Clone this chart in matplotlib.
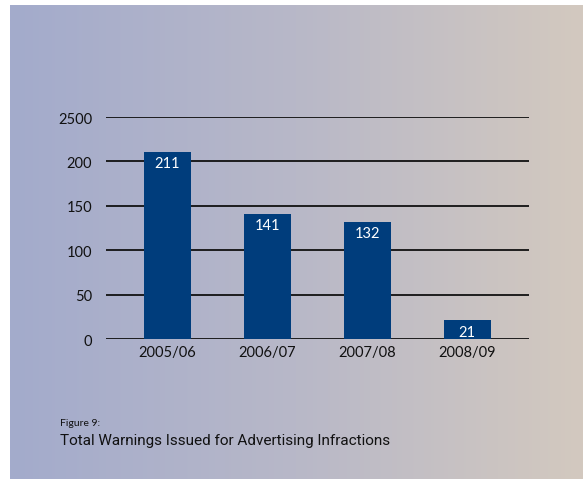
import numpy as np
import matplotlib.pyplot as plt
from matplotlib.colors import LinearSegmentedColormap

seasons = ["2005/06", "2006/07", "2007/08", "2008/09"]
warnings = [211, 141, 132, 21]
ytick_vals = [0, 50, 100, 150, 200, 250]
ytick_labels = ["0", "50", "100", "150", "200", "2500"]

plt.rcParams['font.family'] = ['Lato', 'DejaVu Sans']

W, H = 583, 485
fig = plt.figure(figsize=(W / 100, H / 100), dpi=100)
fig.patch.set_facecolor("white")

# gradient panel behind everything
bg = fig.add_axes([10 / W, 5 / H, (W - 10) / W, (H - 11) / H])
cmap = LinearSegmentedColormap.from_list("bg", ["#a3abcc", "#b8b8c8", "#d3c9bf"])
bg.imshow(np.linspace(0, 1, 256)[None, :], aspect="auto", cmap=cmap, extent=[0, 1, 0, 1])
bg.set_axis_off()

# plot area: x from 106 to 529 px, y=0 at 340 px, y=250 at 118 px
left, right = 106, 529
y0_px, y250_px = 340, 118
ax = fig.add_axes([left / W, (H - y0_px) / H, (right - left) / W, (y0_px - y250_px) / H])
ax.patch.set_alpha(0)
ax.set_xlim(-0.61, 3.62)
ax.set_ylim(0, 250)

ax.set_yticks(ytick_vals)
ax.set_yticklabels(ytick_labels)
ax.yaxis.grid(True, color="#111111", linewidth=1.3)
ax.set_axisbelow(True)
ax.tick_params(axis="both", length=0, labelsize=10.5, colors="#111111")
ax.tick_params(axis="y", pad=10)
ax.tick_params(axis="x", pad=4)
for s in ax.spines.values():
    s.set_visible(False)

x = np.arange(len(seasons))
bars = ax.bar(x, warnings, width=0.47, color="#003d7c", zorder=3)
ax.set_xticks(x)
ax.set_xticklabels(seasons)

for b, v in zip(bars, warnings):
    ax.annotate(str(v), (b.get_x() + b.get_width() / 2, v), xytext=(0, -3),
                textcoords="offset points", ha="center", va="top",
                color="white", fontsize=10.5, zorder=4)

fig.text(60 / W, 1 - 424 / H, "Figure 9:", fontsize=7.5, color="#111111", va="center")
fig.text(60 / W, 1 - 441 / H, "Total Warnings Issued for Advertising Infractions",
         fontsize=11, color="#111111", va="center", family=["Roboto", "Lato"])

fig.savefig("out.png", dpi=100)
